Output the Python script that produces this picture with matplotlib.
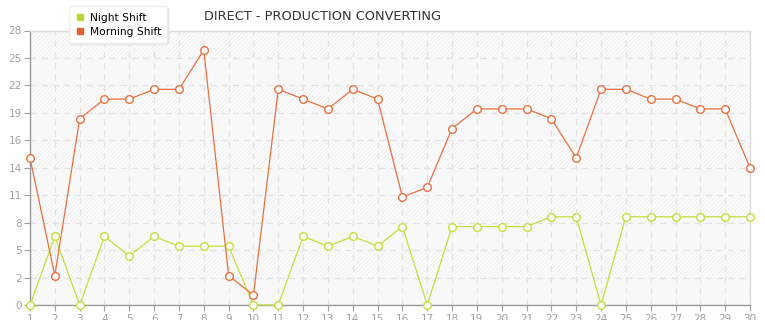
from matplotlib import pyplot as plt
from matplotlib.lines import Line2D
import numpy as np

days = list(range(1, 31))
night_shift = [0, 7, 0, 7, 5, 7, 6, 6, 6, 0,
               0, 7, 6, 7, 6, 8, 0, 8, 8, 8,
               8, 9, 9, 0, 9, 9, 9, 9, 9, 9]
morning_shift = [15, 3, 19, 21, 21, 22, 22, 26, 3, 1,
                 22, 21, 20, 22, 21, 11, 12, 18, 20, 20,
                 20, 19, 15, 22, 22, 21, 21, 20, 20, 14]
y_max = 28
title = 'DIRECT - PRODUCTION CONVERTING'

night_color = '#c5de3c'
morning_color = '#e8703f'

plt.rcParams['hatch.linewidth'] = 0.5

fig = plt.figure(figsize=(7.65, 3.2), dpi=100)
ax = fig.add_axes([30 / 765, 15 / 320, 720 / 765, 274.5 / 320])

yticks = np.linspace(0, y_max, 11)
# alternating bands: plain grey / hatched
for i in range(10):
    if i % 2 == 0:
        ax.axhspan(yticks[i], yticks[i + 1], facecolor='#f8f8f8', edgecolor='none', zorder=0)
    else:
        ax.axhspan(yticks[i], yticks[i + 1], facecolor='#fcfcfc', edgecolor='#ebebeb',
                   hatch='////////', linewidth=0, zorder=0)

ax.plot(days, night_shift, color=night_color, lw=0.9, marker='o', markersize=5.5,
        markerfacecolor='white', markeredgecolor=night_color, markeredgewidth=1.0,
        clip_on=False, zorder=3)
ax.plot(days, morning_shift, color=morning_color, lw=0.9, marker='o', markersize=5.5,
        markerfacecolor='white', markeredgecolor=morning_color, markeredgewidth=1.0,
        clip_on=False, zorder=3)

ax.set_xlim(1, 30)
ax.set_ylim(0, y_max)
ax.set_xticks(days)
ax.set_yticks(yticks)
ax.set_yticklabels([str(int(t)) for t in yticks])
ax.tick_params(axis='both', colors='#a0a0a0', labelsize=7.5, length=4, width=0.8, pad=2)
ax.tick_params(axis='x', pad=2.5)

ax.grid(color='#e2e2e2', linestyle=(0, (5, 4)), linewidth=0.9)
ax.set_axisbelow(True)

for side in ['left', 'bottom']:
    ax.spines[side].set_color('#999999')
    ax.spines[side].set_linewidth(1.0)
for side in ['top', 'right']:
    ax.spines[side].set_color('#dddddd')
    ax.spines[side].set_linewidth(1.0)

fig.text(322 / 765, 1 - 17 / 320, title, ha='center', va='center', fontsize=9.3, color='#333333')

handles = [Line2D([], [], linestyle='none', marker='s', markersize=4, color='#b7d431'),
           Line2D([], [], linestyle='none', marker='s', markersize=4, color='#e0622c')]
leg = fig.legend(handles, ['Night Shift', 'Morning Shift'], loc='upper left',
                 bbox_to_anchor=(64 / 765, 1 - 1 / 320), fontsize=7.7, frameon=True,
                 fancybox=True, handlelength=0.8, handletextpad=0.5, labelspacing=0.35,
                 borderpad=0.6, shadow={'color': '#dddddd', 'alpha': 0.6, 'ox': 1, 'oy': -1})
leg.get_frame().set_edgecolor('#eeeeee')
leg.get_frame().set_facecolor('white')
leg.get_frame().set_alpha(1)
leg.set_zorder(10)

fig.savefig('out.png', dpi=100)
